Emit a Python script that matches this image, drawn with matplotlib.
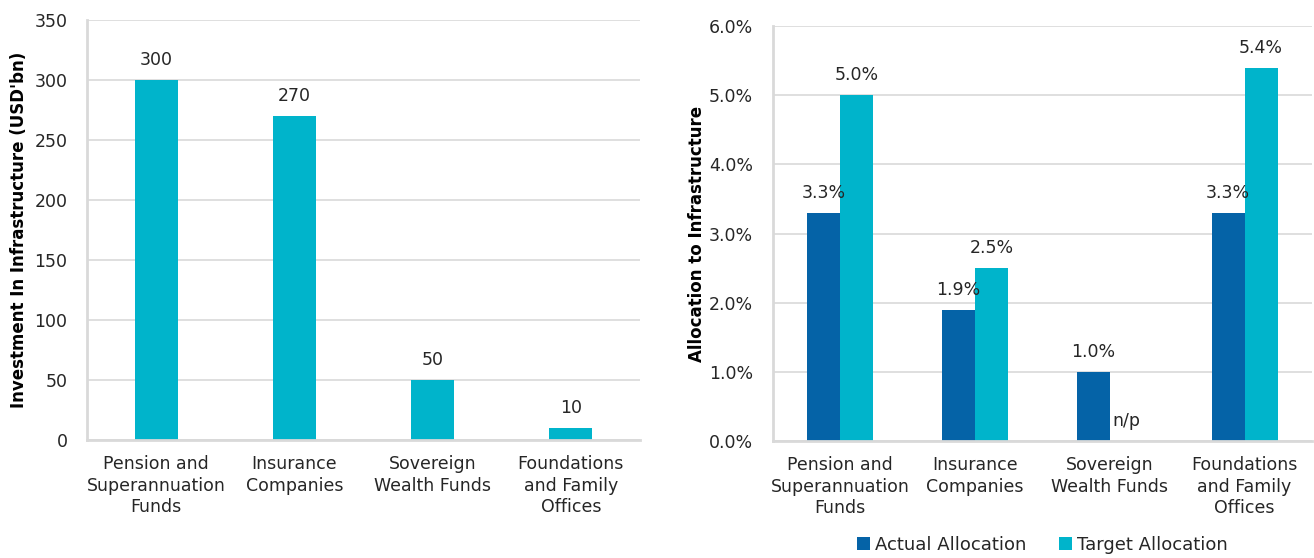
import matplotlib
matplotlib.use("Agg")
import matplotlib.pyplot as plt
import numpy as np

plt.rcParams['font.family'] = ['DejaVu Sans']

categories = ["Pension and\nSuperannuation\nFunds", "Insurance\nCompanies",
              "Sovereign\nWealth Funds", "Foundations\nand Family\nOffices"]
investment = [300, 270, 50, 10]
actual_alloc = [3.3, 1.9, 1.0, 3.3]
target_alloc = [5.0, 2.5, 0.0, 5.4]
target_labels = ["5.0%", "2.5%", "n/p", "5.4%"]
actual_labels = ["3.3%", "1.9%", "1.0%", "3.3%"]

DARK = "#0563A7"
CYAN = "#00B4CB"
GRID = "#D9D9D9"
TXT = "#262626"
FS = 12.5

fig = plt.figure(figsize=(13.14, 5.58), dpi=100)
ax1 = fig.add_axes([0.0662, 0.2115, 0.4208, 0.7525])
ax2 = fig.add_axes([0.588, 0.2097, 0.4105, 0.7433])

def style(ax):
    ax.set_axisbelow(True)
    ax.yaxis.grid(True, color=GRID, linewidth=1.2)
    for s in ["top", "right"]:
        ax.spines[s].set_visible(False)
    for s in ["left", "bottom"]:
        ax.spines[s].set_color(GRID)
        ax.spines[s].set_linewidth(2)
    ax.tick_params(length=0, labelsize=FS, colors=TXT)
    ax.tick_params(axis="y", pad=14)
    ax.tick_params(axis="x", pad=11)

x = np.arange(len(categories))
# Left chart
style(ax1)
ax1.bar(x, investment, width=0.31, color=CYAN)
ax1.set_xlim(-0.5, 3.5)
ax1.set_ylim(0, 350)
ax1.set_yticks(np.arange(0, 351, 50))
ax1.set_xticks(x)
ax1.set_xticklabels(categories, fontsize=FS, color=TXT, linespacing=1.25)
for xi, v in zip(x, investment):
    ax1.annotate(f"{v}", (xi, v), xytext=(0, 8), textcoords="offset points",
                 ha="center", va="bottom", fontsize=FS, color=TXT)
ax1.set_ylabel("Investment In Infrastructure (USD'bn)", fontsize=12,
               fontweight="bold", color="black", labelpad=5)

# Right chart
style(ax2)
w = 0.245
ax2.bar(x - w/2, actual_alloc, width=w, color=DARK, label="Actual Allocation")
ax2.bar(x + w/2, target_alloc, width=w, color=CYAN, label="Target Allocation")
ax2.set_xlim(-0.5, 3.5)
ax2.set_ylim(0, 6.0)
ax2.set_yticks(np.arange(0, 6.01, 1.0))
ax2.set_yticklabels([f"{v:.1f}%" for v in np.arange(0, 6.01, 1.0)])
ax2.set_xticks(x)
ax2.set_xticklabels(categories, fontsize=FS, color=TXT, linespacing=1.25)
for xi, v, lab in zip(x, actual_alloc, actual_labels):
    ax2.annotate(lab, (xi - w/2, v), xytext=(0, 8), textcoords="offset points",
                 ha="center", va="bottom", fontsize=FS, color=TXT)
for xi, v, lab in zip(x, target_alloc, target_labels):
    ax2.annotate(lab, (xi + w/2, v), xytext=(0, 8), textcoords="offset points",
                 ha="center", va="bottom", fontsize=FS, color=TXT)
ax2.set_ylabel("Allocation to Infrastructure", fontsize=12,
               fontweight="bold", color="black", labelpad=2)
ax2.legend(loc="upper center", bbox_to_anchor=(0.5, -0.19), ncol=2, frameon=False,
           fontsize=13, handlelength=0.7, handleheight=0.7, handletextpad=0.3,
           columnspacing=1.8, labelcolor=TXT)

fig.savefig("out.png", dpi=100)
